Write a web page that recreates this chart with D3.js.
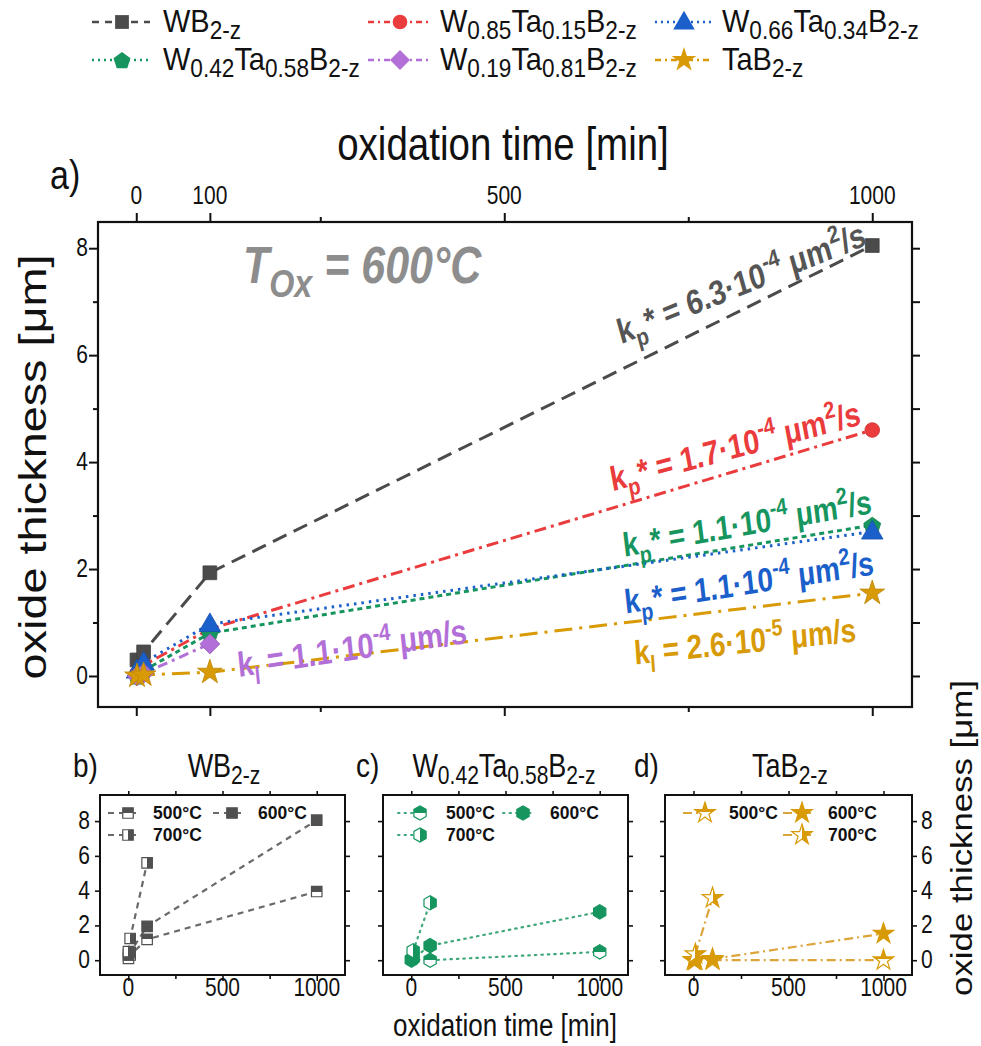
<!DOCTYPE html>
<html><head><meta charset="utf-8">
<script src="https://cdn.jsdelivr.net/npm/d3@7"></script>
<style>body{margin:0;background:#fff}svg{display:block}text{font-family:"Liberation Sans",Arial,sans-serif}</style>
</head><body><svg id="chart" width="981" height="1046"></svg>
<script>
// ---------------- DATA ----------------
// main panel a) : oxidation at 600 °C
const timesA = [1, 10, 100, 1000];
const timesA19 = [1, 10, 100];
const thickWB = [0.3, 0.45, 1.93, 8.05];
const thickW85 = [0.05, 0.2, 0.88, 4.6];
const thickW66 = [0.1, 0.25, 0.97, 2.7];
const thickW42 = [0.0, 0.1, 0.8, 2.82];
const thickW19 = [0.0, 0.05, 0.6];
const thickTaB = [0.0, 0.02, 0.07, 1.55];
// panel b) WB2-z
const tB500 = [1, 10, 100, 1000], wb500 = [0.1, 0.3, 1.2, 3.95];
const tB600 = [1, 10, 100, 1000], wb600 = [0.3, 0.45, 1.95, 8.05];
const tB700 = [1, 10, 100], wb700 = [0.5, 1.25, 5.6];
// panel c) W0.42Ta0.58B2-z
const tC500 = [1, 100, 1000], w42_500 = [0.05, 0.0, 0.48];
const tC600 = [1, 10, 100, 1000], w42_600 = [0.0, 0.1, 0.84, 2.78];
const tC700 = [10, 100], w42_700 = [0.55, 3.3];
// panel d) TaB2-z
const tD500 = [1, 10, 100, 1000], tab500 = [0, 0, 0, 0];
const tD600 = [1, 10, 100, 1000], tab600 = [0, 0.02, 0.07, 1.53];
const tD700 = [10, 100], tab700 = [0.35, 3.58];
// ticks
const mainXTicks = [0, 100, 500, 1000];
const mainXMinor = [250, 750];
const mainYTicks = [0, 2, 4, 6, 8];
const mainYMinor = [1, 3, 5, 7];
const subXTicks = [0, 500, 1000];
const subXMinor = [250, 750];
const subYTicks = [0, 2, 4, 6, 8];
const tempLabels = ["500°C", "600°C", "700°C"];

// ---------------- HELPERS ----------------
const K = 1.2; // vertical stretch of the figure
const svg = d3.select("#chart");
const defs = svg.append("defs");
const deg = Math.PI / 180;
function preAngle(vis) { return Math.atan(Math.tan(vis * deg) / K) / deg; }

function rich(g, x, y, parts, o = {}) {
  const F = o.size || 20;
  const a = o.rotate ? preAngle(o.rotate) : 0;
  const rot = o.rot90 ? -90 : a;
  const k = o.k || K;
  const t = g.append("text")
    .attr("transform", `translate(${x},${y}) scale(1,${k}) rotate(${rot})`)
    .attr("y", o.base || 0)
    .attr("font-size", F).attr("text-anchor", o.anchor || "start")
    .attr("fill", o.color || "#111")
    .attr("font-weight", o.weight || "normal").attr("font-style", o.style || "normal");
  let cur = 0;
  parts.forEach(p => {
    const [s, type] = typeof p === "string" ? [p, "n"] : p;
    const target = type === "sub" ? (o.subShift || 0.28) * F : type === "sup" ? -0.42 * F : 0;
    const fs = type === "n" ? F : F * (o.subScale || 0.7);
    t.append("tspan").attr("dy", target - cur).attr("font-size", fs).text(s);
    cur = target;
  });
  return t;
}

// symbols
const pentagon = { draw(ctx, size) { const r = Math.sqrt(size / 2.378); for (let i = 0; i < 5; i++) { const an = -Math.PI / 2 + i * 2 * Math.PI / 5; const px = r * Math.cos(an), py = r * Math.sin(an) + r * 0.1; i ? ctx.lineTo(px, py) : ctx.moveTo(px, py); } ctx.closePath(); } };
const hexagon = { draw(ctx, size) { const r = Math.sqrt(size / 2.598); for (let i = 0; i < 6; i++) { const an = Math.PI / 6 + i * Math.PI / 3; const px = r * Math.cos(an), py = r * Math.sin(an); i ? ctx.lineTo(px, py) : ctx.moveTo(px, py); } ctx.closePath(); } };
const diamond = { draw(ctx, size) { const r = Math.sqrt(size / 2); ctx.moveTo(0, -r); ctx.lineTo(r, 0); ctx.lineTo(0, r); ctx.lineTo(-r, 0); ctx.closePath(); } };
const triangle = { draw(ctx, size) { const s = Math.sqrt(size * 4 / Math.sqrt(3)); const h = s * Math.sqrt(3) / 2; ctx.moveTo(0, -h * 0.6); ctx.lineTo(s / 2, h * 0.4); ctx.lineTo(-s / 2, h * 0.4); ctx.closePath(); } };

function halfGrad(id, color, dir) {
  const gr = defs.append("linearGradient").attr("id", id)
    .attr("x1", 0).attr("y1", 0).attr("x2", dir === "top" ? 0 : 1).attr("y2", dir === "top" ? 1 : 0);
  const c1 = dir === "top" ? color : "#fff", c2 = dir === "top" ? "#fff" : color;
  [[0, c1], [0.5, c1], [0.5, c2], [1, c2]].forEach(([o, c]) => gr.append("stop").attr("offset", o).attr("stop-color", c));
  return `url(#${id})`;
}

// ---------------- COLORS / STYLES ----------------
const C = { gray: "#4b4b4b", red: "#ea3b3d", blue: "#1b5fca", green: "#17955f", purple: "#b36fd8", gold: "#d89a06" };

const mainSeries = [
  { name: ["WB", ["2-z", "sub"]], color: C.gray, dash: "15,8", legDash: "7,6", sym: d3.symbolSquare, size: 190, t: timesA, v: thickWB },
  { name: ["W", ["0.85", "sub"], "Ta", ["0.15", "sub"], "B", ["2-z", "sub"]], color: C.red, dash: "12,5,3,5", legDash: "6,4,2,4", sym: d3.symbolCircle, size: 170, t: timesA, v: thickW85 },
  { name: ["W", ["0.66", "sub"], "Ta", ["0.34", "sub"], "B", ["2-z", "sub"]], color: C.blue, dash: "2.5,5", legDash: "2,4", sym: triangle, size: 200, t: timesA, v: thickW66 },
  { name: ["W", ["0.42", "sub"], "Ta", ["0.58", "sub"], "B", ["2-z", "sub"]], color: C.green, dash: "5,4", legDash: "2,4", sym: pentagon, size: 190, t: timesA, v: thickW42 },
  { name: ["W", ["0.19", "sub"], "Ta", ["0.81", "sub"], "B", ["2-z", "sub"]], color: C.purple, dash: "10,5,3,5", legDash: "6,4,2,4", sym: diamond, size: 200, t: timesA19, v: thickW19 },
  { name: ["TaB", ["2-z", "sub"]], color: C.gold, dash: "18,7,3,7", legDash: "6,4,2,4", sym: d3.symbolStar, size: 190, t: timesA, v: thickTaB },
];

// ---------------- TOP LEGEND ----------------
const legCols = [[92, 150, 122, 163], [368, 430, 400, 440], [655, 712, 684, 722]];
const legRows = [22, 60];
const gLeg = svg.append("g");
mainSeries.forEach((s, i) => {
  const [l0, l1, mx, tx] = legCols[i % 3];
  const cy = legRows[Math.floor(i / 3)];
  gLeg.append("line").attr("x1", l0).attr("x2", l1).attr("y1", cy).attr("y2", cy)
    .attr("stroke", s.color).attr("stroke-width", 2.5).attr("stroke-dasharray", s.legDash);
  gLeg.append("path").attr("d", d3.symbol(s.sym, s.size)()).attr("transform", `translate(${mx},${cy})`).attr("fill", s.color);
  rich(gLeg, tx, cy + 10, s.name, { size: 29, k: 1.1, subScale: 0.78, subShift: 0.22 });
});

// ---------------- MAIN PANEL ----------------
const xM = d3.scaleLinear([-52, 1054], [98, 912]);
const yM = d3.scaleLinear([-0.58, 8.49], [707, 222]);
const gA = svg.append("g");

function axisLines(g, axis, transform, sw) {
  const a = g.append("g").attr("transform", transform).call(axis);
  a.select(".domain").remove();
  a.selectAll("text").remove();
  a.selectAll("line").attr("stroke", "#111").attr("stroke-width", sw);
  return a;
}
axisLines(gA, d3.axisTop(xM).tickValues(mainXTicks).tickSize(9), "translate(0,222)", 2);
axisLines(gA, d3.axisTop(xM).tickValues(mainXMinor).tickSize(5), "translate(0,222)", 2);
axisLines(gA, d3.axisBottom(xM).tickValues(mainXTicks).tickSize(9), "translate(0,707)", 2);
axisLines(gA, d3.axisBottom(xM).tickValues(mainXMinor).tickSize(5), "translate(0,707)", 2);
axisLines(gA, d3.axisLeft(yM).tickValues(mainYTicks).tickSize(9), "translate(98,0)", 2);
axisLines(gA, d3.axisLeft(yM).tickValues(mainYMinor).tickSize(5), "translate(98,0)", 2);
axisLines(gA, d3.axisRight(yM).tickValues(mainYTicks.concat(mainYMinor)).tickSize(8), "translate(912,0)", 2);
gA.append("rect").attr("x", 98).attr("y", 222).attr("width", 814).attr("height", 485)
  .attr("fill", "none").attr("stroke", "#111").attr("stroke-width", 2.2);

mainXTicks.forEach(d => rich(gA, xM(d), 204, [String(d)], { size: 21, anchor: "middle" }));
mainYTicks.forEach(d => rich(gA, 88, yM(d) + 8, [String(d)], { size: 21, anchor: "end" }));
rich(gA, 503, 160, ["oxidation time [min]"], { size: 38.5, anchor: "middle" });
rich(gA, 50, 189, ["a)"], { size: 34 });
rich(gA, 33, 467, ["oxide thickness [μm]"], { size: 39, anchor: "middle", rot90: true, base: 13 });

// series
const lineGen = d3.line().x(d => xM(d[0])).y(d => yM(d[1]));
const order = [0, 1, 3, 2, 4, 5];
order.forEach(i => {
  const s = mainSeries[i];
  const pts = s.t.map((t, j) => [t, s.v[j]]);
  gA.append("path").attr("d", lineGen(pts)).attr("fill", "none")
    .attr("stroke", s.color).attr("stroke-width", 3).attr("stroke-dasharray", s.dash);
});
order.forEach(i => {
  const s = mainSeries[i];
  gA.selectAll(null).data(s.t.map((t, j) => [t, s.v[j]])).join("path")
    .attr("d", d3.symbol(s.sym, s.size)())
    .attr("transform", d => `translate(${xM(d[0])},${yM(d[1])})`)
    .attr("fill", s.color).attr("stroke", d3.color(s.color).darker(0.4)).attr("stroke-width", 0.8);
});

// annotations
rich(gA, 243, 283, ["T", ["Ox", "sub"], " = 600°C"], { size: 43, weight: "bold", style: "italic", color: "#8d8d8d", subScale: 0.75 });
const kp = v => ["k", ["p", "sub"], "* = " + v + "·10", ["-4", "sup"], " μm", ["2", "sup"], "/s"];
rich(gA, 741, 283, kp("6.3"), { size: 29, weight: "bold", color: "#555", anchor: "middle", rotate: -22, base: 10 });
rich(gA, 735, 446, kp("1.7"), { size: 28.5, weight: "bold", color: C.red, anchor: "middle", rotate: -15, base: 10 });
rich(gA, 747, 523, kp("1.1"), { size: 28, weight: "bold", color: C.green, anchor: "middle", rotate: -10, base: 10 });
rich(gA, 749, 582, kp("1.1"), { size: 28, weight: "bold", color: C.blue, anchor: "middle", rotate: -9, base: 10 });
rich(gA, 745, 641, ["k", ["l", "sub"], " = 2.6·10", ["-5", "sup"], " μm/s"], { size: 28, weight: "bold", color: C.gold, anchor: "middle", rotate: -6, base: 10 });
rich(gA, 352, 648, ["k", ["l", "sub"], " = 1.1·10", ["-4", "sup"], " μm/s"], { size: 29, weight: "bold", color: C.purple, anchor: "middle", rotate: -8.5, base: 10 });

// ---------------- SUB PANELS ----------------
const panels = [
  { x0: 100, x1: 345, letter: "b)", lx: 73, title: ["WB", ["2-z", "sub"]], tx: 224,
    color: "#505050", lineColor: "#6a6a6a", dash: "6,5", cap: "butt", sym: d3.symbolSquare, size: 110,
    series: [[tB500, wb500], [tB600, wb600], [tB700, wb700]], leftLabels: true,
    leg: [[108, 138, 128, 153, 813], [213, 241, 232, 258, 813], [108, 138, 128, 153, 835]] },
  { x0: 383, x1: 628, letter: "c)", lx: 356, title: ["W", ["0.42", "sub"], "Ta", ["0.58", "sub"], "B", ["2-z", "sub"]], tx: 504,
    color: C.green, lineColor: "#3fa77a", dash: "1.5,5", cap: "round", sym: hexagon, size: 130,
    series: [[tC500, w42_500], [tC600, w42_600], [tC700, w42_700]],
    leg: [[398, 428, 420, 446, 813], [503, 533, 523, 550, 813], [398, 428, 420, 446, 835]] },
  { x0: 665, x1: 912, letter: "d)", lx: 634, title: ["TaB", ["2-z", "sub"]], tx: 790,
    color: C.gold, lineColor: "#dba53a", dash: "9,4,2,4", cap: "butt", sym: d3.symbolStar, size: 130,
    series: [[tD500, tab500], [tD600, tab600], [tD700, tab700]], rightLabels: true,
    leg: [[683, 715, 705, 729, 813], [783, 813, 802, 828, 813], [783, 813, 802, 828, 835]] },
];
const yS = d3.scaleLinear([-0.85, 9.5], [975, 795]);
panels.forEach((p, pi) => {
  const g = svg.append("g");
  const xS = d3.scaleLinear([-150, 1150], [p.x0, p.x1]);
  axisLines(g, d3.axisBottom(xS).tickValues(subXTicks).tickSize(6), "translate(0,975)", 1.6);
  axisLines(g, d3.axisBottom(xS).tickValues(subXMinor).tickSize(4), "translate(0,975)", 1.6);
  axisLines(g, d3.axisTop(xS).tickValues(subXTicks.concat(subXMinor)).tickSize(4), "translate(0,795)", 1.6);
  axisLines(g, d3.axisLeft(yS).tickValues(subYTicks).tickSize(5), `translate(${p.x0},0)`, 1.6);
  axisLines(g, d3.axisRight(yS).tickValues(subYTicks).tickSize(5), `translate(${p.x1},0)`, 1.6);
  g.append("rect").attr("x", p.x0).attr("y", 795).attr("width", p.x1 - p.x0).attr("height", 180)
    .attr("fill", "none").attr("stroke", "#111").attr("stroke-width", 2);
  subXTicks.forEach(d => rich(g, xS(d), 996, [String(d)], { size: 21, anchor: "middle" }));
  if (p.leftLabels) subYTicks.forEach(d => rich(g, 90, yS(d) + 8, [String(d)], { size: 21, anchor: "end" }));
  if (p.rightLabels) subYTicks.forEach(d => rich(g, 921, yS(d) + 8, [String(d)], { size: 21, anchor: "start" }));
  rich(g, p.lx, 777, [p.letter], { size: 28 });
  rich(g, p.tx, 777, p.title, { size: 27, anchor: "middle", subScale: 0.78, subShift: 0.22 });

  const fills = [halfGrad("top" + pi, p.color, "top"), p.color, halfGrad("right" + pi, p.color, "right")];
  const lg = d3.line().x(d => xS(d[0])).y(d => yS(d[1]));
  p.series.forEach(([ts, vs]) => {
    g.append("path").attr("d", lg(ts.map((t, j) => [t, vs[j]]))).attr("fill", "none")
      .attr("stroke", p.lineColor).attr("stroke-width", 2.2).attr("stroke-dasharray", p.dash).attr("stroke-linecap", p.cap);
  });
  p.series.forEach(([ts, vs], si) => {
    g.selectAll(null).data(ts.map((t, j) => [t, vs[j]])).join("path")
      .attr("d", d3.symbol(p.sym, p.size)())
      .attr("transform", d => `translate(${xS(d[0])},${yS(d[1])})`)
      .attr("fill", fills[si]).attr("stroke", p.color).attr("stroke-width", 1.2);
  });
  // legend
  p.leg.forEach(([l0, l1, mx, tx, cy], si) => {
    g.append("line").attr("x1", l0).attr("x2", l1).attr("y1", cy).attr("y2", cy)
      .attr("stroke", p.lineColor).attr("stroke-width", 2).attr("stroke-dasharray", p.dash).attr("stroke-linecap", p.cap);
    g.append("path").attr("d", d3.symbol(p.sym, p.size)()).attr("transform", `translate(${mx},${cy})`)
      .attr("fill", fills[si]).attr("stroke", p.color).attr("stroke-width", 1.2);
    rich(g, tx, cy + 6, [tempLabels[si]], { size: 17.5, weight: "bold", k: 1.1 });
  });
});
rich(svg, 505, 1036, ["oxidation time [min]"], { size: 26, anchor: "middle" });
rich(svg, 963, 838, ["oxide thickness [μm]"], { size: 29, anchor: "middle", rot90: true, base: 9 });
</script></body></html>
